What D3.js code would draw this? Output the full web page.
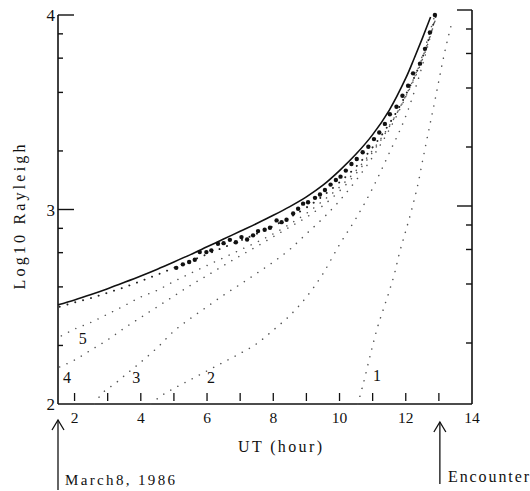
<!DOCTYPE html>
<html><head><meta charset="utf-8">
<script src="https://cdn.jsdelivr.net/npm/d3@7"></script>
<style>body{margin:0;background:#fff}svg{display:block}text{font-family:"Liberation Serif","DejaVu Serif",serif;fill:#111}</style>
</head><body><svg id="c" width="530" height="491"></svg>
<script>
// ---- data (UT hour, log10 Rayleigh) ----
const modelHours  = [1.5,2,2.5,3,3.5,4,4.5,5,5.5,6,6.5,7,7.5,8,8.5,9,9.5,10,10.5,11,11.5,12,12.25,12.5,12.75];
const modelValues = [2.51,2.535,2.563,2.593,2.625,2.658,2.693,2.73,2.768,2.808,2.848,2.888,2.928,2.97,3.015,3.065,3.125,3.2,3.285,3.385,3.51,3.675,3.775,3.88,3.99];
const obsHours  = [5.07,5.27,5.46,5.63,5.78,5.98,6.13,6.33,6.5,6.69,6.87,7.04,7.21,7.39,7.54,7.74,7.9,8.1,8.25,8.4,8.6,8.75,8.9,9.05,9.26,9.41,9.56,9.73,9.89,10.03,10.19,10.36,10.52,10.7,10.87,11.04,11.2,11.37,11.52,11.72,11.9,12.07,12.22,12.43,12.58,12.73,12.88];
const obsValues = [2.70,2.718,2.73,2.742,2.781,2.781,2.79,2.824,2.827,2.844,2.832,2.858,2.846,2.867,2.889,2.896,2.906,2.944,2.935,2.947,2.98,3.004,3.03,3.037,3.06,3.077,3.10,3.128,3.152,3.169,3.2,3.234,3.26,3.294,3.323,3.362,3.396,3.44,3.49,3.528,3.585,3.636,3.70,3.75,3.826,3.91,4.0];
const curveU = [[1.55,2.50],[2,2.522],[2.5,2.545],[3,2.572],[3.5,2.60],[4,2.632],[4.5,2.665],[5,2.70],[5.5,2.735],[6,2.77],[6.5,2.805],[7,2.84],[7.5,2.875],[8,2.915],[8.5,2.96],[9,3.01],[9.5,3.07],[10,3.14],[10.5,3.22],[11,3.32],[11.5,3.44],[12,3.59],[12.5,3.78],[12.9,3.99]];
const curve5 = [[1.6,2.35],[2,2.385],[2.5,2.42],[3,2.462],[3.5,2.505],[4,2.55],[4.5,2.585],[5,2.63],[5.5,2.672],[6,2.712],[6.5,2.752],[7,2.792],[7.5,2.832],[8,2.875],[8.5,2.925],[9,2.98],[9.5,3.045],[10,3.115],[10.5,3.2],[11,3.305],[11.5,3.43],[12,3.58],[12.5,3.77],[12.9,3.98]];
const curve4 = [[1.55,2.19],[2,2.226],[2.5,2.278],[3,2.33],[3.5,2.39],[4,2.445],[4.5,2.50],[5,2.555],[5.5,2.61],[6,2.66],[6.5,2.712],[7,2.762],[7.5,2.81],[8,2.86],[8.5,2.91],[9,2.96],[9.5,3.02],[10,3.095],[10.5,3.185],[11,3.295],[11.5,3.425],[12,3.585],[12.5,3.78],[12.9,3.98]];
const curve3 = [[2.6,2.0],[2.76,2.04],[3.26,2.11],[3.5,2.145],[4,2.215],[4.5,2.29],[5,2.375],[5.5,2.44],[6,2.50],[6.5,2.56],[7,2.615],[7.5,2.672],[8,2.73],[8.5,2.795],[9,2.875],[9.5,2.955],[10,3.045],[10.5,3.15],[11,3.27],[11.5,3.41],[12,3.58],[12.5,3.79],[12.88,4.0]];
const curve2 = [[4.3,2.0],[4.6,2.04],[5,2.08],[5.5,2.125],[6,2.17],[6.5,2.215],[7,2.26],[7.5,2.31],[8,2.38],[8.5,2.455],[9,2.55],[9.5,2.67],[10,2.82],[10.5,2.955],[11,3.11],[11.5,3.29],[12,3.48],[12.5,3.74],[12.85,3.96]];
const curve1 = [[10.55,2.0],[10.68,2.08],[10.98,2.287],[11.13,2.385],[11.31,2.48],[11.49,2.574],[11.67,2.677],[11.8,2.77],[12.0,2.89],[12.18,3.0],[12.38,3.14],[12.53,3.27],[12.88,3.56],[13.19,3.82],[13.36,3.94]];
const curveLabels = [["5",2.25,2.338],["4",1.77,2.138],["3",3.86,2.138],["2",6.12,2.138],["1",11.13,2.148]];
const xTickLabels = [2,4,6,8,10,12,14];
const xMinorTicks = [2,3,4,5,6,7,8,9,10,11,12,13];
const yMajor = [2,3,4];
const yMinor = [2.30103,2.60206,2.77815,2.90309,3.30103,3.60206,3.77815,3.90309];

const svg = d3.select("#c");
const x = d3.scaleLinear().domain([1.5,14]).range([58,472]);
const y = d3.scaleLinear().domain([2,4]).range([404,15]);
const yR = d3.scaleLinear().domain([2,4]).range([402,10]);

const g = svg.append("g");
// axes lines
g.append("line").attr("x1",x(1.5)).attr("x2",x(1.5)).attr("y1",y(2)).attr("y2",y(4)).attr("stroke","#111").attr("stroke-width",1.6);
g.append("line").attr("x1",x(14)).attr("x2",x(14)).attr("y1",y(2)).attr("y2",yR(4)).attr("stroke","#111").attr("stroke-width",1.6);
g.append("line").attr("x1",x(1.5)).attr("x2",x(14)).attr("y1",y(2)).attr("y2",y(2)).attr("stroke","#111").attr("stroke-width",1.6);

// y ticks left (inward)
const tl = g.append("g");
tl.selectAll("line.maj").data([3,4]).join("line").attr("class","maj").attr("x1",x(1.5)).attr("x2",x(1.5)+16).attr("y1",d=>y(d)).attr("y2",d=>y(d)).attr("stroke","#111").attr("stroke-width",1.4);
tl.selectAll("line.min").data(yMinor).join("line").attr("class","min").attr("x1",x(1.5)).attr("x2",x(1.5)+5).attr("y1",d=>y(d)).attr("y2",d=>y(d)).attr("stroke","#111").attr("stroke-width",1.4);
// right ticks (inward)
const tr = g.append("g");
tr.selectAll("line").data([3,4].map(v=>({v,len:15})).concat(yMinor.map(v=>({v,len:6})))).join("line")
  .attr("x1",x(14)).attr("x2",d=>x(14)-d.len).attr("y1",d=>yR(d.v)).attr("y2",d=>yR(d.v)).attr("stroke","#111").attr("stroke-width",1.4);
// y labels
g.selectAll("text.yl").data(yMajor).join("text").attr("class","yl").attr("x",x(1.5)-3).attr("y",d=>y(d)+6).attr("text-anchor","end").attr("font-size",17).text(d=>d);

// x ticks
g.selectAll("line.xt").data(xMinorTicks).join("line").attr("class","xt").attr("x1",d=>x(d)).attr("x2",d=>x(d)).attr("y1",y(2)-3).attr("y2",y(2)-11).attr("stroke","#111").attr("stroke-width",1.3);
g.selectAll("text.xl").data(xTickLabels).join("text").attr("class","xl").attr("x",d=>x(d)).attr("y",y(2)+19).attr("text-anchor","middle").attr("font-size",15.5).text(d=>d);

// titles
svg.append("text").attr("transform","translate(25,217) rotate(-90)").attr("text-anchor","middle").attr("font-size",16)
  .attr("textLength",145).attr("lengthAdjust","spacing").text("Log10 Rayleigh");
svg.append("text").attr("x",238).attr("y",452).attr("font-size",16).attr("textLength",84).attr("lengthAdjust","spacing").text("UT (hour)");

// dotted thin curves
const line = d3.line().x(d=>x(d[0])).y(d=>y(d[1])).curve(d3.curveMonotoneX);
const thin = [{d:curveU,w:1.9,c:"#222"},{d:curve5,w:1.5,c:"#555"},{d:curve4,w:1.5,c:"#555"},{d:curve3,w:1.5,c:"#555"},{d:curve2,w:1.5,c:"#555"},{d:curve1,w:1.5,c:"#555"}];
svg.append("g").selectAll("path").data(thin).join("path").attr("d",d=>line(d.d)).attr("fill","none")
  .attr("stroke",d=>d.c).attr("stroke-width",d=>d.w).attr("stroke-linecap","round").attr("stroke-dasharray","0.1 8");

// solid model
const model = modelHours.map((h,i)=>[h,modelValues[i]]);
svg.append("path").attr("d",d3.line().x(d=>x(d[0])).y(d=>y(d[1])).curve(d3.curveCatmullRom)(model)).attr("fill","none").attr("stroke","#111").attr("stroke-width",1.6);

// observations
svg.append("g").selectAll("circle").data(obsHours.map((h,i)=>[h,obsValues[i]])).join("circle")
  .attr("cx",d=>x(d[0])).attr("cy",d=>y(d[1])).attr("r",2.2).attr("fill","#111");

// curve labels
svg.append("g").selectAll("text").data(curveLabels).join("text").attr("x",d=>x(d[1])).attr("y",d=>y(d[2])+6).attr("text-anchor","middle").attr("font-size",16).text(d=>d[0]);

// arrows & annotations
function arrow(xp, y0, y1){
  svg.append("line").attr("x1",xp).attr("x2",xp).attr("y1",y0).attr("y2",y1).attr("stroke","#111").attr("stroke-width",1.3);
  svg.append("path").attr("d",`M${xp-6},${y0+10}L${xp},${y0}L${xp+6},${y0+10}`).attr("fill","none").attr("stroke","#111").attr("stroke-width",1.3);
}
arrow(x(1.5),420,490);
arrow(x(13.03),422,484);
svg.append("text").attr("x",65).attr("y",485).attr("font-size",15).attr("textLength",110).attr("lengthAdjust","spacing").text("March8, 1986");
svg.append("text").attr("x",448).attr("y",482).attr("font-size",16).attr("textLength",81).attr("lengthAdjust","spacing").text("Encounter");
</script></body></html>
